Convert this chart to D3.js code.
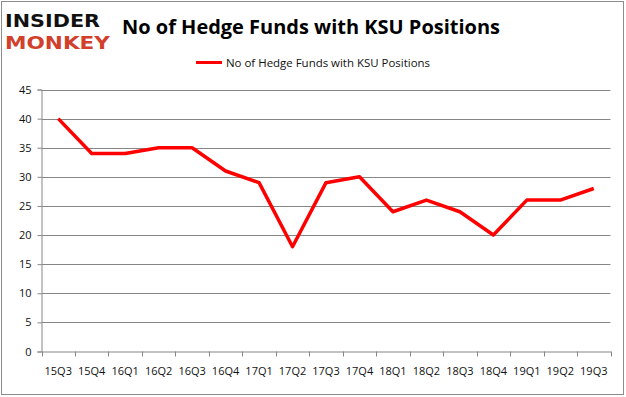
<!DOCTYPE html>
<html>
<head>
<meta charset="utf-8">
<script src="https://cdn.jsdelivr.net/npm/d3@7"></script>
<style>
  body { margin: 0; background: #fff; }
  svg { display: block; font-family: "Open Sans", "Noto Sans", sans-serif; }
</style>
</head>
<body>
<svg id="chart" width="626" height="397"></svg>
<script>
const quarters = ['15Q3', '15Q4', '16Q1', '16Q2', '16Q3', '16Q4', '17Q1', '17Q2', '17Q3',
    '17Q4', '18Q1', '18Q2', '18Q3', '18Q4', '19Q1', '19Q2', '19Q3'];
const funds = [40, 34, 34, 35, 35, 31, 29, 18, 29, 30, 24, 26, 24, 20, 26, 26, 28];
const yTicks = [0, 5, 10, 15, 20, 25, 30, 35, 40, 45];
const seriesName = 'No of Hedge Funds with KSU Positions';

const svg = d3.select('#chart');

const plotLeft = 41.5,
    plotRight = 610.5,
    plotTop = 89.5,
    plotBottom = 351.5;

// outer frame
svg.append('rect')
    .attr('x', 1.5)
    .attr('y', 1.5)
    .attr('width', 622)
    .attr('height', 393)
    .attr('fill', 'none')
    .attr('stroke', '#8c8c8c')
    .attr('stroke-width', 1);

// logo
svg.append('text')
    .attr('x', 5)
    .attr('y', 27)
    .attr('textLength', 95)
    .attr('lengthAdjust', 'spacingAndGlyphs')
    .attr('font-family', 'DejaVu Sans')
    .attr('font-weight', 'bold')
    .attr('font-size', 18.5)
    .attr('fill', '#111')
    .text('INSIDER');

svg.append('text')
    .attr('x', 5)
    .attr('y', 49)
    .attr('textLength', 105)
    .attr('lengthAdjust', 'spacingAndGlyphs')
    .attr('font-family', 'DejaVu Sans')
    .attr('font-weight', 'bold')
    .attr('font-size', 18.5)
    .attr('fill', '#d23f2b')
    .text('MONKEY');

// title
svg.append('text')
    .attr('x', 311)
    .attr('y', 34)
    .attr('text-anchor', 'middle')
    .attr('font-weight', 'bold')
    .attr('font-size', 19)
    .attr('textLength', 378)
    .attr('lengthAdjust', 'spacingAndGlyphs')
    .attr('fill', '#000')
    .text('No of Hedge Funds with KSU Positions');

// legend
svg.append('line')
    .attr('x1', 196)
    .attr('x2', 222)
    .attr('y1', 62.5)
    .attr('y2', 62.5)
    .attr('stroke', '#ff0000')
    .attr('stroke-width', 3);

svg.append('text')
    .attr('x', 226)
    .attr('y', 66.5)
    .attr('font-size', 11)
    .attr('textLength', 204)
    .attr('lengthAdjust', 'spacingAndGlyphs')
    .attr('fill', '#111')
    .text(seriesName);

const x = d3.scaleBand()
    .domain(quarters)
    .range([plotLeft, plotRight]);

const y = d3.scaleLinear()
    .domain([0, 45])
    .range([plotBottom, plotTop]);

// gridlines
svg.append('g')
    .selectAll('line')
    .data(yTicks.filter(d => d > 0))
    .join('line')
    .attr('x1', plotLeft)
    .attr('x2', plotRight)
    .attr('y1', d => Math.round(y(d)) + 0.5)
    .attr('y2', d => Math.round(y(d)) + 0.5)
    .attr('stroke', '#868686')
    .attr('stroke-width', 1);

// y axis
const yAxis = svg.append('g')
    .attr('transform', `translate(${plotLeft},0)`)
    .call(d3.axisLeft(y).tickValues(yTicks).tickSize(4).tickPadding(6));

// x axis with ticks at category boundaries
const xAxis = svg.append('g')
    .attr('transform', `translate(0,${plotBottom})`)
    .call(d3.axisBottom(x).tickSize(0).tickPadding(16));

xAxis.selectAll('.boundary')
    .data(quarters.concat(['end']))
    .join('line')
    .attr('class', 'boundary')
    .attr('x1', (d, i) => Math.round(plotLeft + i * x.step()) + 0.5)
    .attr('x2', (d, i) => Math.round(plotLeft + i * x.step()) + 0.5)
    .attr('y1', 0)
    .attr('y2', 5)
    .attr('stroke', '#868686');

[yAxis, xAxis].forEach(axis => {
    axis.select('.domain').attr('stroke', '#868686');
    axis.selectAll('.tick line').attr('stroke', '#868686');
    axis.selectAll('text')
        .attr('font-family', '"Open Sans", "Noto Sans", sans-serif')
        .attr('font-size', 11)
        .attr('fill', '#111');
});

// series line
const line = d3.line()
    .x((d, i) => x(quarters[i]) + x.bandwidth() / 2)
    .y(d => y(d));

svg.append('path')
    .datum(funds)
    .attr('d', line)
    .attr('fill', 'none')
    .attr('stroke', '#ff0000')
    .attr('stroke-width', 3.5)
    .attr('stroke-linejoin', 'round');
</script>
</body>
</html>
